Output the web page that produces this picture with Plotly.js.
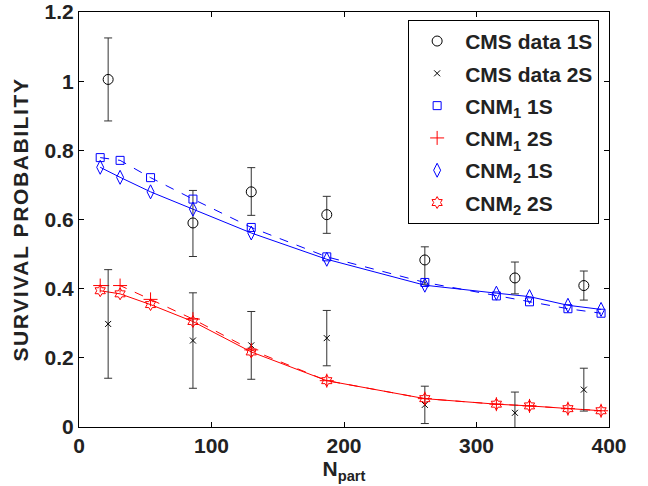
<!DOCTYPE html>
<html>
<head>
<meta charset="utf-8">
<script src="https://cdn.plot.ly/plotly-3.0.1.min.js"></script>
<style>
html,body{margin:0;padding:0;background:#fff;}
.ytitle{letter-spacing:1.6px;}
</style>
</head>
<body>
<div id="chart" style="width:648px;height:486px;"></div>
<script>
// CMS data
const cmsNpart = [22, 86, 130, 187, 261, 329, 381];
const cms1S = [1.005, 0.59, 0.68, 0.614, 0.483, 0.431, 0.409];
const cms1SErrPlus = [0.12, 0.094, 0.07, 0.053, 0.038, 0.046, 0.042];
const cms1SErrMinus = [0.12, 0.097, 0.068, 0.054, 0.07, 0.046, 0.042];
const cms2S = [0.298, 0.25, 0.236, 0.257, 0.064, 0.041, 0.108];
const cms2SErr = [0.157, 0.138, 0.098, 0.08, 0.054, 0.06, 0.062];

// Model curves
const modelNpart = [16, 31, 54, 86, 130, 187, 261, 315, 340, 369, 394];
const cnm1_1S = [0.779, 0.771, 0.721, 0.659, 0.577, 0.492, 0.418, 0.379, 0.362, 0.342, 0.329];
const cnm2_1S = [0.751, 0.722, 0.680, 0.630, 0.561, 0.485, 0.410, 0.387, 0.377, 0.352, 0.340];
const cnm1_2S = [0.409, 0.409, 0.369, 0.312, 0.223, 0.134, 0.082, 0.066, 0.061, 0.053, 0.047];
const cnm2_2S = [0.394, 0.385, 0.354, 0.305, 0.217, 0.134, 0.082, 0.066, 0.061, 0.053, 0.047];

const legendNames = ['CMS data 1S', 'CMS data 2S', 'CNM<sub>1</sub> 1S', 'CNM<sub>1</sub> 2S', 'CNM<sub>2</sub> 1S', 'CNM<sub>2</sub> 2S'];
const xTicks = [0, 100, 200, 300, 400];
const yTicks = [0, 0.2, 0.4, 0.6, 0.8, 1, 1.2];

const blue = '#0000ff', red = '#ff0000';

function lineTrace(y, color, dash) {
  return {x: modelNpart, y: y, mode: 'lines', line: {color: color, width: 1, dash: dash}, showlegend: false, hoverinfo: 'skip'};
}
function markTrace(y, color, symbol, size, name, grp) {
  return {x: modelNpart, y: y, mode: 'markers', name: name, legendgroup: grp,
    marker: {symbol: symbol, size: size, color: color, line: {color: color, width: 1}}};
}

const traces = [
  lineTrace(cnm1_1S, blue, 'dash'),
  lineTrace(cnm2_1S, blue, 'solid'),
  lineTrace(cnm1_2S, red, 'dash'),
  lineTrace(cnm2_2S, red, 'solid'),
  {x: cmsNpart, y: cms1S, mode: 'markers', name: legendNames[0], legendgroup: 'g1',
    marker: {symbol: 'circle-open', size: 10, color: '#000', line: {width: 1}},
    error_y: {type: 'data', symmetric: false, array: cms1SErrPlus, arrayminus: cms1SErrMinus, color: '#333', thickness: 1, width: 4}},
  {x: cmsNpart, y: cms2S, mode: 'markers', name: legendNames[1], legendgroup: 'g2',
    marker: {symbol: 'x-thin-open', size: 6, color: '#000', line: {width: 1, color: '#000'}},
    error_y: {type: 'data', array: cms2SErr, color: '#333', thickness: 1, width: 4}},
  markTrace(cnm1_1S, blue, 'square-open', 8, legendNames[2], 'g3'),
  markTrace(cnm1_2S, red, 'cross-thin-open', 10, legendNames[3], 'g4'),
  markTrace(cnm2_1S, blue, 'diamond-tall-open', 10, legendNames[4], 'g5'),
  markTrace(cnm2_2S, red, 'hexagram-open', 9, legendNames[5], 'g6')
];

const fontBold = {family: 'Liberation Sans, Arial, sans-serif', size: 21, color: '#222', weight: 'bold'};

const layout = {
  width: 648, height: 486,
  margin: {l: 79, r: 39, t: 12, b: 59},
  paper_bgcolor: '#fff', plot_bgcolor: '#fff',
  showlegend: true,
  xaxis: {
    range: [0, 400], tickvals: xTicks,
    showgrid: false, zeroline: false, showline: true, mirror: 'ticks', linecolor: '#000', linewidth: 1,
    ticks: 'inside', ticklen: 5, tickcolor: '#000',
    tickfont: fontBold,
    title: {text: 'N<sub>part</sub>', font: fontBold, standoff: 2}
  },
  yaxis: {
    range: [0, 1.2], tickvals: yTicks,
    showgrid: false, zeroline: false, showline: true, mirror: 'ticks', linecolor: '#000', linewidth: 1,
    ticks: 'inside', ticklen: 5, tickcolor: '#000',
    tickfont: fontBold,
    title: {text: 'SURVIVAL PROBABILITY', font: fontBold, standoff: 10}
  },
  legend: {
    x: 0.621, y: 0.981, xanchor: 'left', yanchor: 'top',
    bgcolor: '#fff', bordercolor: '#000', borderwidth: 1,
    font: fontBold, itemwidth: 46, tracegroupgap: 2
  }
};

Plotly.newPlot('chart', traces, layout, {displayModeBar: false});
</script>
</body>
</html>
